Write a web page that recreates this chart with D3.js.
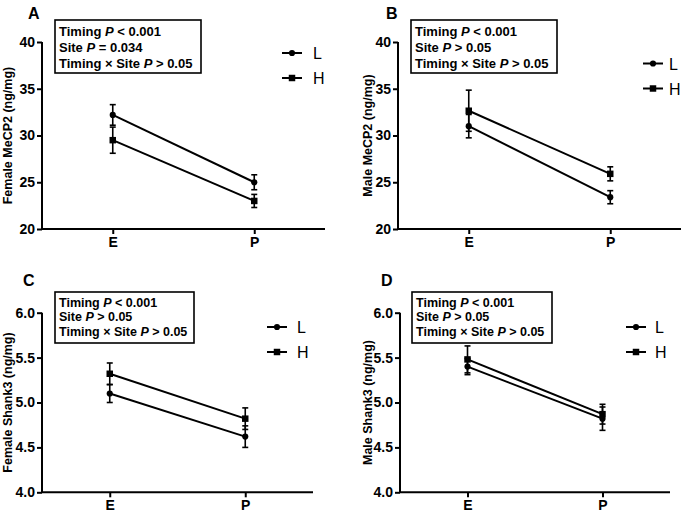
<!DOCTYPE html>
<html><head><meta charset="utf-8">
<script src="https://cdn.jsdelivr.net/npm/d3@7/dist/d3.min.js"></script>
<style>body{margin:0;background:#fff}svg{display:block;font-family:"Liberation Sans",Arial,sans-serif}</style>
</head><body><svg id="c" width="685" height="513"></svg>
<script>
// ---- data ----
const timings = ["E", "P"];
const seriesNames = ["L", "H"];
const femaleMeCP2_L = [32.2, 25.0], femaleMeCP2_L_err = [1.1, 0.8];
const femaleMeCP2_H = [29.5, 23.0], femaleMeCP2_H_err = [1.4, 0.7];
const maleMeCP2_L = [31.0, 23.4], maleMeCP2_L_err = [1.25, 0.7];
const maleMeCP2_H = [32.65, 25.9], maleMeCP2_H_err = [2.2, 0.75];
const femaleShank3_L = [5.10, 4.62], femaleShank3_L_err = [0.10, 0.12];
const femaleShank3_H = [5.32, 4.82], femaleShank3_H_err = [0.12, 0.12];
const maleShank3_L = [5.40, 4.82], maleShank3_L_err = [0.09, 0.13];
const maleShank3_H = [5.48, 4.87], maleShank3_H_err = [0.15, 0.11];
const mecp2Ticks = [20, 25, 30, 35, 40];
const shank3Ticks = [4.0, 4.5, 5.0, 5.5, 6.0];
const statsA = [["Timing ", "< 0.001"], ["Site ", "= 0.034"], ["Timing × Site ", "> 0.05"]];
const statsOther = [["Timing ", "< 0.001"], ["Site ", "> 0.05"], ["Timing × Site ", "> 0.05"]];

const panels = [
  {letter:"A", ylabel:"Female MeCP2 (ng/mg)", L:femaleMeCP2_L, Le:femaleMeCP2_L_err, H:femaleMeCP2_H, He:femaleMeCP2_H_err,
   ticks:mecp2Ticks, fmt:d3.format("d"), stats:statsA, fs:13, lh:16, fb:15.5,
   x0:42, x1:325, yT:42, yB:229, lx:28, ly:19, ylx:12, box:[55,20,146,53], leg:[282,53,313]},
  {letter:"B", ylabel:"Male MeCP2 (ng/mg)", L:maleMeCP2_L, Le:maleMeCP2_L_err, H:maleMeCP2_H, He:maleMeCP2_H_err,
   ticks:mecp2Ticks, fmt:d3.format("d"), stats:statsOther, fs:13, lh:16, fb:15.5,
   x0:398, x1:681, yT:42, yB:229, lx:386, ly:19, ylx:372, box:[411,20,146,53], leg:[643,63.5,669]},
  {letter:"C", ylabel:"Female Shank3 (ng/mg)", L:femaleShank3_L, Le:femaleShank3_L_err, H:femaleShank3_H, He:femaleShank3_H_err,
   ticks:shank3Ticks, fmt:d3.format(".1f"), stats:statsOther, fs:12.5, lh:14.7, fb:14.7,
   x0:42, x1:313, yT:312.7, yB:492.3, lx:23, ly:286, ylx:12, box:[55,292,139,51], leg:[267,327,297]},
  {letter:"D", ylabel:"Male Shank3 (ng/mg)", L:maleShank3_L, Le:maleShank3_L_err, H:maleShank3_H, He:maleShank3_H_err,
   ticks:shank3Ticks, fmt:d3.format(".1f"), stats:statsOther, fs:12.5, lh:14.7, fb:14.7,
   x0:400, x1:670, yT:312.7, yB:492.3, lx:381, ly:286, ylx:372, box:[412,292,140,51], leg:[626,327,655]}
];

const svg = d3.select("#c");
const circleSym = d3.symbol().type(d3.symbolCircle).size(30);
const squareSym = d3.symbol().type(d3.symbolSquare).size(42);

panels.forEach(p => {
  const g = svg.append("g");
  const x = d3.scalePoint().domain(timings).range([p.x0, p.x1]).padding(0.5);
  const y = d3.scaleLinear().domain([p.ticks[0], p.ticks[p.ticks.length-1]]).range([p.yB, p.yT]);

  const ya = g.append("g").attr("transform", `translate(${p.x0},0)`)
    .call(d3.axisLeft(y).tickValues(p.ticks).tickFormat(p.fmt).tickSize(5).tickPadding(2));
  const xa = g.append("g").attr("transform", `translate(0,${p.yB})`)
    .call(d3.axisBottom(x).tickSize(5).tickPadding(3));
  [ya, xa].forEach(a => {
    a.select(".domain").attr("stroke", "#000").attr("stroke-width", 2);
    a.selectAll(".tick line").attr("stroke", "#000").attr("stroke-width", 2);
    a.selectAll("text").attr("fill", "#000").attr("font-weight", "bold").attr("font-size", 14)
      .attr("font-family", '"Liberation Sans",Arial,sans-serif');
  });
  ya.select(".domain").attr("d", `M0,${p.yB}V${p.yT}`);
  xa.select(".domain").attr("d", `M${p.x0},0H${p.x1}`);

  g.append("text").attr("transform", `translate(${p.ylx},${(p.yT+p.yB)/2}) rotate(-90)`)
    .attr("text-anchor", "middle").attr("font-weight", "bold").attr("font-size", 12.5).text(p.ylabel);
  g.append("text").attr("x", p.lx).attr("y", p.ly).attr("font-weight", "bold").attr("font-size", 16).text(p.letter);

  const sers = [{name:seriesNames[0], v:p.L, e:p.Le, sym:circleSym}, {name:seriesNames[1], v:p.H, e:p.He, sym:squareSym}];
  sers.forEach(s => {
    const pts = timings.map((t, i) => ({t, v:s.v[i], e:s.e[i]}));
    g.append("path").datum(pts).attr("fill", "none").attr("stroke", "#000").attr("stroke-width", 2)
      .attr("d", d3.line().x(d => x(d.t)).y(d => y(d.v)));
    pts.forEach(d => {
      const cx = x(d.t);
      g.append("line").attr("x1", cx).attr("x2", cx).attr("y1", y(d.v - d.e)).attr("y2", y(d.v + d.e))
        .attr("stroke", "#000").attr("stroke-width", 1.6);
      [d.v - d.e, d.v + d.e].forEach(vv => g.append("line").attr("x1", cx-3).attr("x2", cx+3)
        .attr("y1", y(vv)).attr("y2", y(vv)).attr("stroke", "#000").attr("stroke-width", 1.6));
      g.append("path").attr("d", s.sym()).attr("transform", `translate(${cx},${y(d.v)})`).attr("fill", "#000");
    });
  });

  const [bx, by, bw, bh] = p.box;
  g.append("rect").attr("x", bx).attr("y", by).attr("width", bw).attr("height", bh)
    .attr("fill", "#fff").attr("stroke", "#000").attr("stroke-width", 1.6);
  p.stats.forEach((st, i) => {
    const t = g.append("text").attr("x", bx+4).attr("y", by+p.fb+i*p.lh).attr("font-weight", "bold").attr("font-size", p.fs);
    t.append("tspan").text(st[0]);
    t.append("tspan").attr("font-style", "italic").text("P");
    t.append("tspan").text(" " + st[1]);
  });

  const [lgx, lgy, ltx] = p.leg;
  sers.forEach((s, i) => {
    const yy = lgy + i*25;
    g.append("line").attr("x1", lgx).attr("x2", lgx+20).attr("y1", yy).attr("y2", yy).attr("stroke", "#000").attr("stroke-width", 2);
    g.append("path").attr("d", s.sym()).attr("transform", `translate(${lgx+10},${yy})`).attr("fill", "#000");
    g.append("text").attr("x", ltx).attr("y", yy+6).attr("font-size", 16).text(s.name);
  });
});
</script></body></html>
